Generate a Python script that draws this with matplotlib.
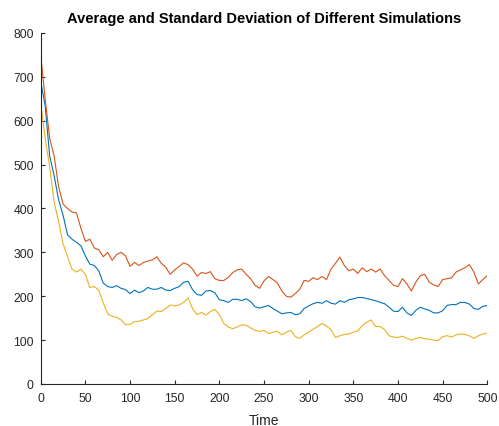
import numpy as np
import matplotlib
matplotlib.use("Agg")
import matplotlib.pyplot as plt

plt.rcParams['font.family'] = ['Liberation Sans', 'DejaVu Sans']

time = list(range(0, 501, 5))

upper = [750, 650, 560, 520, 450, 410, 400, 392, 390, 355,
         325, 330, 310, 306, 290, 300, 282, 295, 300, 292,
         268, 277, 270, 277, 280, 283, 290, 275, 266, 250,
         260, 268, 276, 272, 262, 246, 254, 252, 256, 240,
         236, 236, 243, 254, 260, 262, 250, 240, 225, 218,
         235, 245, 238, 230, 212, 200, 198, 206, 216, 236,
         234, 242, 238, 245, 238, 262, 275, 289, 270, 258,
         262, 252, 265, 256, 262, 255, 262, 247, 236, 225,
         222, 240, 228, 212, 232, 247, 250, 232, 226, 222,
         238, 240, 242, 255, 260, 265, 272, 255, 228, 238,
         247]

mean = [690, 634, 520, 475, 420, 385, 340, 330, 323, 315,
        292, 273, 270, 258, 230, 222, 220, 224, 218, 215,
        206, 214, 208, 212, 220, 216, 216, 220, 214, 213,
        218, 222, 232, 234, 215, 204, 202, 212, 213, 208,
        192, 190, 186, 193, 193, 190, 194, 188, 176, 173,
        176, 179, 172, 166, 160, 162, 163, 158, 160, 172,
        178, 183, 186, 184, 190, 184, 182, 190, 186, 192,
        194, 197, 197, 195, 192, 190, 186, 183, 175, 166,
        165, 175, 162, 156, 168, 175, 171, 168, 162, 162,
        167, 179, 181, 181, 186, 186, 182, 172, 170, 177,
        179]

lower = [640, 560, 495, 415, 370, 320, 290, 262, 255, 262,
         250, 220, 222, 214, 185, 160, 154, 152, 146, 135,
         136, 142, 143, 146, 149, 158, 166, 165, 172, 180,
         178, 180, 186, 196, 172, 158, 163, 157, 165, 170,
         158, 138, 130, 126, 130, 135, 134, 128, 122, 120,
         122, 115, 118, 120, 112, 118, 122, 108, 104, 112,
         118, 125, 131, 138, 132, 124, 106, 110, 113, 114,
         118, 121, 133, 141, 146, 131, 131, 124, 110, 107,
         106, 109, 104, 100, 104, 106, 103, 102, 100, 99,
         108, 110, 107, 112, 114, 113, 110, 104, 110, 114,
         116]

x_ticks = [0, 50, 100, 150, 200, 250, 300, 350, 400, 450, 500]
y_ticks = [0, 100, 200, 300, 400, 500, 600, 700, 800]

fig = plt.figure(figsize=(4.99, 4.27), dpi=100)
ax = fig.add_axes([0.0816, 0.0984, 0.8949, 0.822])

ax.plot(time, mean, color='#0072BD', lw=0.8)
ax.plot(time, upper, color='#D95319', lw=0.8)
ax.plot(time, lower, color='#EDB120', lw=0.8)

ax.set_xlim(0, 500)
ax.set_ylim(0, 800)
ax.set_xticks(x_ticks)
ax.set_yticks(y_ticks)

for side in ('top', 'right'):
    ax.spines[side].set_visible(False)
for side in ('left', 'bottom'):
    ax.spines[side].set_color('#262626')
    ax.spines[side].set_linewidth(0.8)

ax.tick_params(direction='in', length=3, width=0.8, colors='#262626',
               labelsize=8.7)
ax.tick_params(axis='x', pad=6)
ax.tick_params(axis='y', pad=5)

ax.set_xlabel('Time', fontsize=10, color='#262626', labelpad=6)
ax.set_title('Average and Standard Deviation of Different Simulations',
             fontsize=10.5, fontweight='bold', color='#000000', pad=8)

fig.savefig('out.png', dpi=100)
